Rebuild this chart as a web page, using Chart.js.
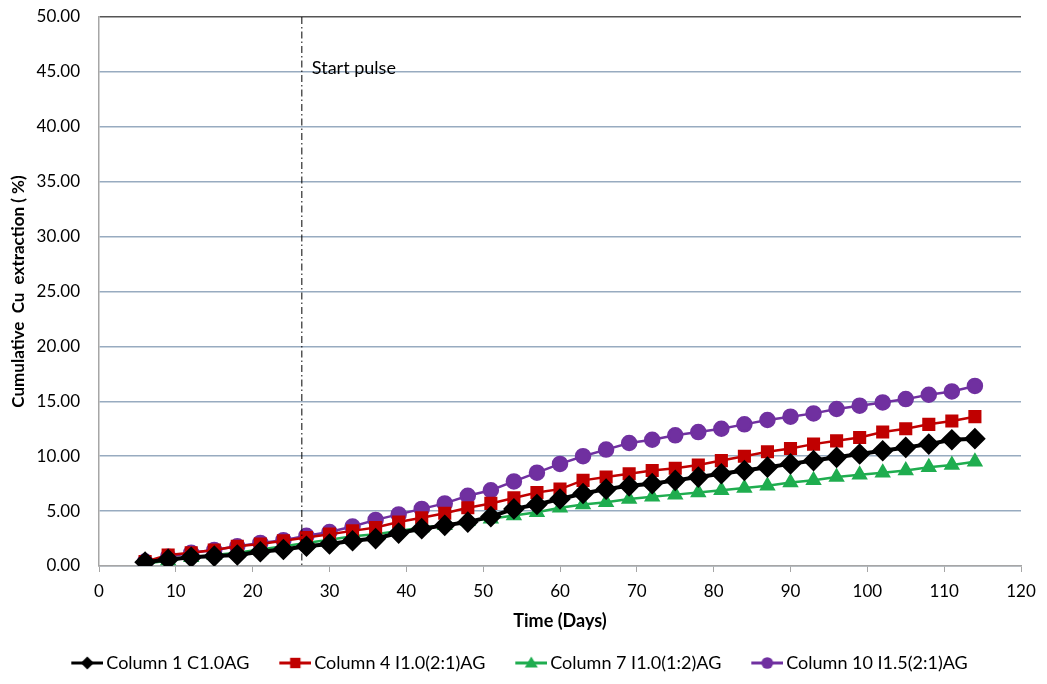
<!DOCTYPE html>
<html>
<head>
<meta charset="utf-8">
<script src="https://cdn.jsdelivr.net/npm/chart.js@4"></script>
<style>
  html, body { margin: 0; padding: 0; background: #fff; }
  #wrap { width: 1047px; height: 684px; }
</style>
</head>
<body>
<div id="wrap"><canvas id="line-chart"></canvas></div>
<script>
// sampling days (every 3 days)
const days = [6, 9, 12, 15, 18, 21, 24, 27, 30, 33, 36, 39, 42, 45, 48, 51, 54, 57, 60,
  63, 66, 69, 72, 75, 78, 81, 84, 87, 90, 93, 96, 99, 102, 105, 108, 111, 114];

const col1 = [0.35, 0.6, 0.8, 0.9, 1.0, 1.3, 1.5, 1.8, 2.0, 2.3, 2.5, 3.0, 3.4, 3.7, 4.0, 4.5, 5.2, 5.6, 6.1,
  6.6, 7.0, 7.3, 7.5, 7.8, 8.1, 8.4, 8.7, 9.0, 9.3, 9.6, 9.9, 10.2, 10.5, 10.8, 11.1, 11.5, 11.6];
const col4 = [0.4, 1.0, 1.2, 1.45, 1.8, 2.0, 2.3, 2.6, 2.9, 3.2, 3.5, 4.0, 4.4, 4.8, 5.3, 5.7, 6.2, 6.7, 7.0,
  7.8, 8.1, 8.4, 8.7, 8.9, 9.2, 9.6, 10.0, 10.4, 10.7, 11.1, 11.4, 11.7, 12.2, 12.5, 12.9, 13.2, 13.6];
const col7 = [0.2, 0.5, 0.8, 1.0, 1.2, 1.5, 1.8, 2.1, 2.4, 2.7, 2.9, 3.2, 3.5, 3.7, 4.1, 4.3, 4.6, 4.9, 5.3,
  5.6, 5.8, 6.1, 6.3, 6.5, 6.7, 6.9, 7.1, 7.3, 7.6, 7.8, 8.1, 8.3, 8.5, 8.7, 9.0, 9.2, 9.5];
const col10 = [0.4, 0.85, 1.2, 1.45, 1.8, 2.1, 2.35, 2.75, 3.1, 3.6, 4.2, 4.7, 5.2, 5.7, 6.4, 6.9, 7.7, 8.5, 9.3,
  10.0, 10.6, 11.2, 11.5, 11.9, 12.2, 12.5, 12.9, 13.3, 13.6, 13.9, 14.3, 14.6, 14.9, 15.2, 15.6, 15.9, 16.4];

const seriesNames = ['Column 1 C1.0AG', 'Column 4 I1.0(2:1)AG', 'Column 7 I1.0(1:2)AG', 'Column 10 I1.5(2:1)AG'];
const pulseDay = 26.4;

const font = 'Lato, "Open Sans", sans-serif';

const pts = vals => days.map((d, i) => ({ x: d, y: vals[i] }));

// legend swatch: line with marker, with blank space on the left to push items apart
function swatch(color, style, r) {
  const c = document.createElement('canvas');
  c.width = 56; c.height = 16;
  const g = c.getContext('2d');
  const cx = 40;
  g.strokeStyle = color; g.lineWidth = 3;
  g.beginPath(); g.moveTo(24, 8); g.lineTo(56, 8); g.stroke();
  g.fillStyle = color;
  g.beginPath();
  if (style === 'rectRot') { g.moveTo(cx, 8 - r); g.lineTo(cx + r, 8); g.lineTo(cx, 8 + r); g.lineTo(cx - r, 8); }
  else if (style === 'rect') { g.rect(cx - r * 0.8, 8 - r * 0.8, r * 1.6, r * 1.6); }
  else if (style === 'triangle') { g.moveTo(cx, 8 - r); g.lineTo(cx + r, 8 + r * 0.7); g.lineTo(cx - r, 8 + r * 0.7); }
  else { g.arc(cx, 8, r * 0.9, 0, Math.PI * 2); }
  g.closePath(); g.fill();
  return c;
}

const pulseLine = {
  id: 'pulseLine',
  afterDatasetsDraw(chart) {
    const { ctx, chartArea, scales } = chart;
    const x = scales.x.getPixelForValue(pulseDay);
    ctx.save();
    ctx.strokeStyle = '#000';
    ctx.lineWidth = 1;
    ctx.setLineDash([7, 3, 1.5, 3]);
    ctx.beginPath();
    ctx.moveTo(x, chartArea.top);
    ctx.lineTo(x, chartArea.bottom);
    ctx.stroke();
    ctx.setLineDash([]);
    ctx.fillStyle = '#000';
    ctx.font = '18px ' + font;
    ctx.textBaseline = 'middle';
    ctx.fillText('Start pulse', x + 10, scales.y.getPixelForValue(45.35));
    ctx.restore();
  }
};

const ctx = document.getElementById('line-chart').getContext('2d');
const chart = new Chart(ctx, {
  type: 'line',
  plugins: [pulseLine],
  data: {
    datasets: [
      { label: seriesNames[0], data: pts(col1), borderColor: '#000', backgroundColor: '#000',
        borderWidth: 4, pointStyle: 'rectRot', pointRadius: 8, pointHoverRadius: 8, legendStyle: 'rectRot' },
      { label: seriesNames[1], data: pts(col4), borderColor: '#c00000', backgroundColor: '#c00000',
        borderWidth: 2.5, pointStyle: 'rect', pointRadius: 7.5, pointHoverRadius: 7.5, legendStyle: 'rect' },
      { label: seriesNames[2], data: pts(col7), borderColor: '#1fad4f', backgroundColor: '#1fad4f',
        borderWidth: 2.5, pointStyle: 'triangle', pointRadius: 7, pointHoverRadius: 7, legendStyle: 'triangle' },
      { label: seriesNames[3], data: pts(col10), borderColor: '#7030a0', backgroundColor: '#7030a0',
        borderWidth: 2.5, pointStyle: 'circle', pointRadius: 7, pointHoverRadius: 7, legendStyle: 'circle' }
    ]
  },
  options: {
    responsive: true,
    maintainAspectRatio: false,
    animation: false,
    layout: { padding: { top: 17, right: 26, left: 0, bottom: 2 } },
    scales: {
      x: {
        type: 'linear', min: 0, max: 120,
        ticks: { stepSize: 10, color: '#000', font: { family: font, size: 17 }, padding: 9 },
        grid: { drawOnChartArea: false, drawTicks: true, tickLength: 6, color: '#a6a6a6' },
        border: { color: '#a6a6a6', width: 1.5 },
        title: { display: true, text: 'Time (Days)', color: '#000',
          font: { family: font, size: 18, weight: 'bold' }, padding: { top: 0, bottom: 10 } }
      },
      y: {
        min: 0, max: 50,
        afterFit: s => { s.width = 99; s.paddingTop = 0; s.paddingBottom = 0; },
        ticks: { stepSize: 5, color: '#000', font: { family: font, size: 17 }, padding: 19,
          callback: v => v.toFixed(2) },
        grid: { drawTicks: false, lineWidth: 1.5,
          color: c => c.tick && c.tick.value === 50 ? '#555' : '#98abc0' },
        border: { color: '#a6a6a6', width: 1.5 },
        title: { display: true, text: 'Cumulative  Cu  extraction ( %)', color: '#000',
          font: { family: font, size: 17, weight: 'bold' }, padding: { top: 8, bottom: 2 } }
      }
    },
    plugins: {
      tooltip: { enabled: false },
      legend: {
        position: 'bottom',
        labels: {
          color: '#000',
          font: { family: font, size: 18 },
          usePointStyle: true,
          pointStyleWidth: 44,
          boxHeight: 16,
          padding: 12,
          generateLabels: chart => chart.data.datasets.map((ds, i) => ({
            text: ds.label,
            fillStyle: ds.borderColor,
            strokeStyle: ds.borderColor,
            fontColor: '#000',
            lineWidth: 0,
            pointStyle: swatch(ds.borderColor, ds.legendStyle, 6.5),
            datasetIndex: i,
            hidden: false
          }))
        }
      }
    }
  }
});
</script>
</body>
</html>
